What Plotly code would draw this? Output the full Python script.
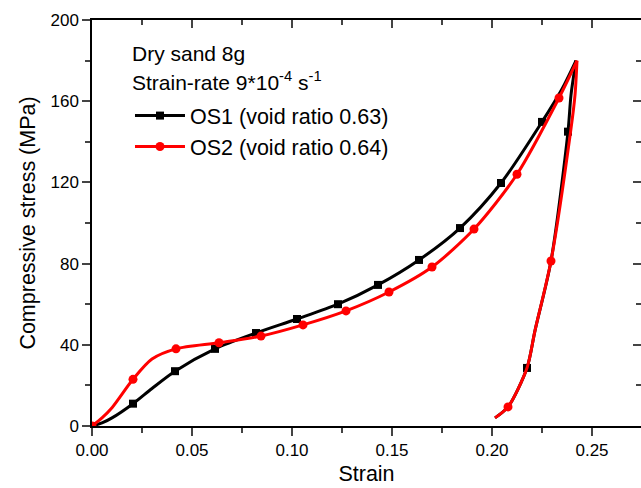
import plotly.graph_objects as go

# ---- data ----
# OS1 loading curve
os1_load_strain = [0, 0.005, 0.01, 0.0205, 0.03, 0.0415, 0.0615, 0.082, 0.1025, 0.123, 0.143, 0.1635, 0.184, 0.2045, 0.225, 0.235, 0.242]
os1_load_stress = [0, 1.5, 4, 11, 18.5, 27, 38, 45.8, 52.7, 60, 69.5, 81.8, 97.5, 119.7, 149.8, 166, 180]
# OS1 unloading curve
os1_unload_strain = [0.242, 0.2395, 0.238, 0.2295, 0.2215, 0.2175, 0.208, 0.2015]
os1_unload_stress = [180, 163, 145, 81.3, 47, 28.6, 9.4, 4]
# OS1 marker positions
os1_mark_strain = [0, 0.0205, 0.0415, 0.0615, 0.082, 0.1025, 0.123, 0.143, 0.1635, 0.184, 0.2045, 0.225, 0.238, 0.2175]
os1_mark_stress = [0, 11, 27, 38, 45.8, 52.7, 60, 69.5, 81.8, 97.5, 119.7, 149.8, 145, 28.6]

# OS2 loading curve
os2_load_strain = [0, 0.005, 0.01, 0.0205, 0.03, 0.042, 0.0635, 0.0845, 0.1055, 0.127, 0.1485, 0.17, 0.191, 0.2125, 0.2335, 0.2425]
os2_load_stress = [0, 4, 9, 23, 33, 38, 41, 44.3, 49.8, 56.7, 66, 78.3, 97, 124, 161.6, 180]
# OS2 unloading curve
os2_unload_strain = [0.2425, 0.2415, 0.2393, 0.2295, 0.2215, 0.2175, 0.208, 0.2015]
os2_unload_stress = [180, 163, 145, 81.3, 47, 28.6, 9.4, 4]
# OS2 marker positions
os2_mark_strain = [0, 0.0205, 0.042, 0.0635, 0.0845, 0.1055, 0.127, 0.1485, 0.17, 0.191, 0.2125, 0.2335, 0.2295, 0.208]
os2_mark_stress = [0, 23, 38, 41, 44.3, 49.8, 56.7, 66, 78.3, 97, 124, 161.6, 81.3, 9.4]

x_ticks = [0.00, 0.05, 0.10, 0.15, 0.20, 0.25]
y_ticks = [0, 40, 80, 120, 160, 200]

series_names = ["OS1 (void ratio 0.63)", "OS2 (void ratio 0.64)"]
BLACK = "#000000"
RED = "#FF0000"
FONT = "Liberation Sans, Arial, sans-serif"

fig = go.Figure()

def add_series(load_x, load_y, unl_x, unl_y, mk_x, mk_y, color, symbol, msize, name):
    for xs, ys in ((load_x, load_y), (unl_x, unl_y)):
        fig.add_trace(go.Scatter(x=xs, y=ys, mode="lines", line=dict(color=color, width=3, shape="spline", smoothing=0.8),
                                 showlegend=False, hoverinfo="skip"))
    fig.add_trace(go.Scatter(x=mk_x, y=mk_y, mode="markers",
                             marker=dict(color=color, symbol=symbol, size=msize), showlegend=False))
    fig.add_trace(go.Scatter(x=[None], y=[None], mode="lines+markers", name=name,
                             line=dict(color=color, width=3),
                             marker=dict(color=color, symbol=symbol, size=msize)))

add_series(os1_load_strain, os1_load_stress, os1_unload_strain, os1_unload_stress,
           os1_mark_strain, os1_mark_stress, BLACK, "square", 8, series_names[0])
add_series(os2_load_strain, os2_load_stress, os2_unload_strain, os2_unload_stress,
           os2_mark_strain, os2_mark_stress, RED, "circle", 9, series_names[1])

xr = [0, 0.2745]
yr = [0, 200]

fig.update_layout(
    width=641, height=488,
    margin=dict(l=92, r=0, t=20, b=62),
    paper_bgcolor="white", plot_bgcolor="white",
    font=dict(family=FONT, color="black", size=17),
    xaxis=dict(range=xr, tickvals=x_ticks, tickformat=".2f", ticks="outside", ticklen=8, tickwidth=1.5,
               showline=True, linecolor="black", linewidth=1.5, showgrid=False, zeroline=False,
               minor=dict(dtick=0.025, ticks="outside", ticklen=5, tickwidth=1.5, tick0=0),
               title=dict(text="Strain", font=dict(size=21.5), standoff=7),
               tickfont=dict(size=17)),
    yaxis=dict(range=yr, tickvals=y_ticks, ticks="outside", ticklen=8, tickwidth=1.5,
               showline=True, linecolor="black", linewidth=1.5, showgrid=False, zeroline=False,
               minor=dict(dtick=20, ticks="outside", ticklen=5, tickwidth=1.5, tick0=0),
               title=dict(text="Compressive stress (MPa)", font=dict(size=21.5), standoff=9),
               tickfont=dict(size=17)),
    xaxis2=dict(range=xr, overlaying="x", side="top", anchor="y", tickvals=x_ticks, ticks="inside", ticklen=8,
                tickwidth=1.5, showticklabels=False, showline=True, linecolor="black", linewidth=1.5,
                showgrid=False, zeroline=False,
                minor=dict(dtick=0.025, ticks="inside", ticklen=5, tickwidth=1.5, tick0=0)),
    yaxis2=dict(range=yr, overlaying="y", side="right", anchor="x", tickvals=y_ticks, ticks="inside", ticklen=8,
                tickwidth=1.5, showticklabels=False, showline=True, linecolor="black", linewidth=1.5,
                showgrid=False, zeroline=False,
                minor=dict(dtick=20, ticks="inside", ticklen=5, tickwidth=1.5, tick0=0)),
    legend=dict(x=0.0692, y=0.815, xanchor="left", yanchor="top", bgcolor="rgba(0,0,0,0)",
                font=dict(size=21.5), itemwidth=50, tracegroupgap=0),
    showlegend=True,
)

fig.add_trace(go.Scatter(x=[None], y=[None], xaxis="x2", yaxis="y2", showlegend=False, hoverinfo="skip"))

fig.add_annotation(xref="paper", yref="paper", x=0.069, y=0.918, xanchor="left", yanchor="middle",
                   text="Dry sand 8g", showarrow=False, font=dict(size=21))
fig.add_annotation(xref="paper", yref="paper", x=0.069, y=0.849, xanchor="left", yanchor="middle",
                   text="Strain-rate 9*10<sup>-4</sup> s<sup>-1</sup>", showarrow=False, font=dict(size=21))

fig.write_html("out.html")
